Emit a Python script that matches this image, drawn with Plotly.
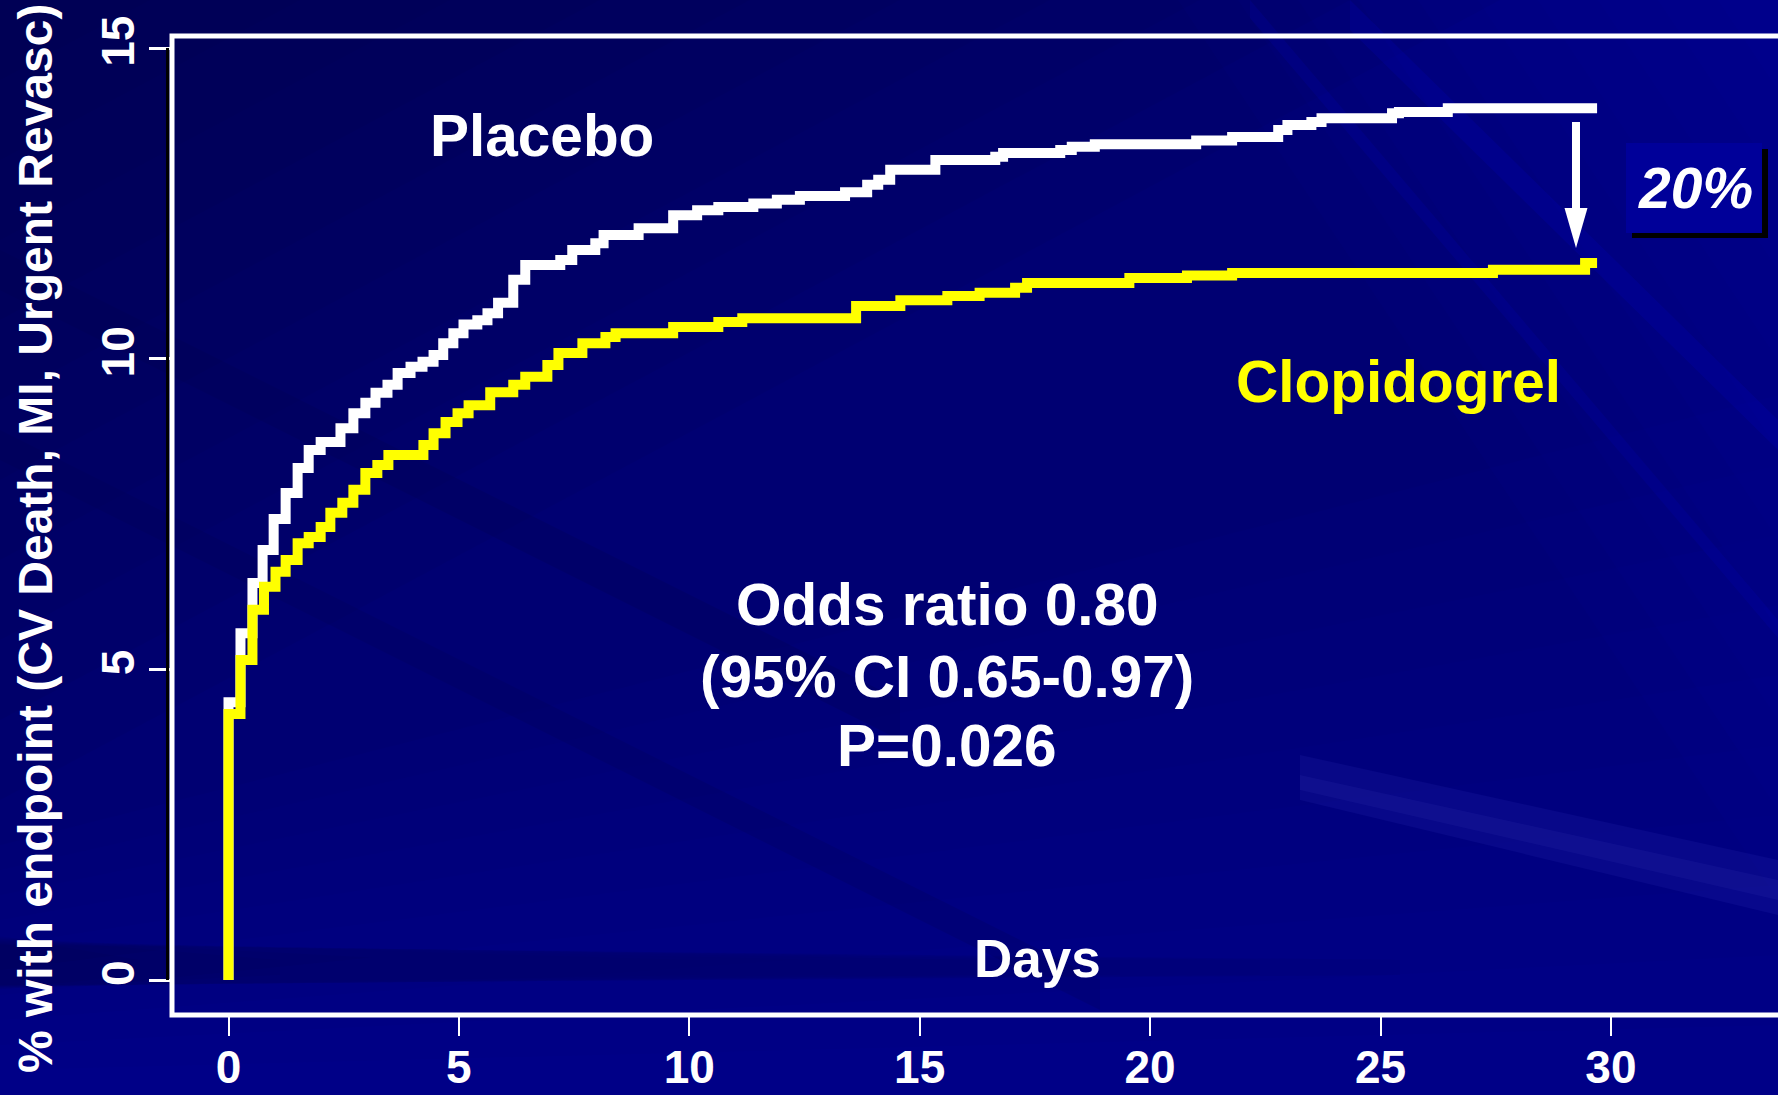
import plotly.graph_objects as go

# ---------------- data ----------------
placebo_days = [0, 0, 0.26, 0.52, 0.74, 0.98, 1.24, 1.5, 1.74, 2.0, 2.43, 2.71, 2.97, 3.19,
                3.45, 3.67, 3.95, 4.21, 4.45, 4.66, 4.88, 5.1, 5.4, 5.62, 5.85, 6.18, 6.44,
                7.2, 7.46, 7.96, 8.14, 8.9, 9.65, 10.17, 10.63, 11.39, 11.9, 12.4, 13.38,
                13.86, 14.1, 14.36, 15.34, 16.64, 16.81, 18.05, 18.3, 18.8, 21.0, 21.78,
                22.78, 22.98, 23.5, 23.72, 25.25, 25.4, 26.46, 29.7]
placebo_pct = [0, 4.47, 5.58, 6.39, 6.92, 7.42, 7.84, 8.24, 8.53, 8.66, 8.88, 9.12, 9.29, 9.45,
               9.58, 9.77, 9.87, 9.95, 10.06, 10.25, 10.41, 10.55, 10.62, 10.73, 10.9, 11.27, 11.51,
               11.59, 11.75, 11.86, 11.99, 12.1, 12.31, 12.39, 12.44, 12.5, 12.56, 12.62, 12.68,
               12.8, 12.88, 13.04, 13.2, 13.25, 13.31, 13.36, 13.41, 13.45, 13.51, 13.57,
               13.68, 13.76, 13.81, 13.87, 13.95, 13.97, 14.03, 14.03]

clopi_days = [0, 0, 0.26, 0.52, 0.77, 1.02, 1.24, 1.5, 1.74, 2.0, 2.21, 2.47, 2.71, 2.97, 3.23,
              3.47, 4.23, 4.45, 4.71, 4.97, 5.21, 5.68, 6.18, 6.44, 6.92, 7.16, 7.68, 8.18, 8.4,
              9.65, 10.63, 11.15, 13.62, 14.58, 15.6, 16.3, 17.07, 17.33, 19.55, 20.8, 21.78,
              27.44, 29.44, 29.7]
clopi_pct = [0, 4.28, 5.15, 5.96, 6.33, 6.57, 6.76, 7.03, 7.13, 7.29, 7.52, 7.68, 7.89, 8.16, 8.29,
             8.45, 8.61, 8.8, 8.98, 9.12, 9.25, 9.46, 9.58, 9.71, 9.9, 10.09, 10.25, 10.35, 10.41,
             10.51, 10.59, 10.65, 10.85, 10.94, 11.01, 11.06, 11.14, 11.22, 11.3, 11.34, 11.38,
             11.43, 11.54, 11.54]

x_ticks = [0, 5, 10, 15, 20, 25, 30]
y_ticks = [0, 5, 10, 15]

y_title = "% with endpoint (CV Death, MI, Urgent Revasc)"
stats_lines = ["Odds ratio 0.80", "(95% CI 0.65-0.97)", "P=0.026"]

# ---------------- layout geometry ----------------
FW, FH = 1778, 1095
L, R, T, B = 172, 1778, 36, 1015
W, H = R - L, B - T


def PX(x):
    return (x - L) / W


def PY(y):
    return (B - y) / H


FONT = "Liberation Sans, Arial, Helvetica, sans-serif"

fig = go.Figure()
fig.add_trace(go.Scatter(x=placebo_days, y=placebo_pct, mode="lines", line_shape="hv",
                         line=dict(color="white", width=10), name="Placebo",
                         showlegend=False, hoverinfo="skip"))
fig.add_trace(go.Scatter(x=clopi_days, y=clopi_pct, mode="lines", line_shape="hv",
                         line=dict(color="#ffff00", width=10), name="Clopidogrel",
                         showlegend=False, hoverinfo="skip"))

shapes = []


def poly(pts, color, opacity, layer="below"):
    d = "M " + " L ".join(f"{PX(x):.5f},{PY(y):.5f}" for x, y in pts) + " Z"
    shapes.append(dict(type="path", xref="paper", yref="paper", path=d,
                       fillcolor=color, opacity=opacity, line=dict(width=0), layer=layer))


# background: soft gradients built from many faint nested bands
poly([(0, 0), (1778, 0), (1778, 1095), (0, 1095)], "#000072", 1)
N = 10
for k in range(1, N + 1):
    f = k / N
    # darker toward upper-left
    poly([(0, 0), (1500 * f, 0), (0, 800 * f)], "#000030", 0.055)
    # brighter toward bottom
    poly([(0, 1095), (1778, 1095), (1778, 1095 - 700 * f), (0, 1095 - 250 * f)], "#0000b0", 0.045)
    # brighter toward upper-right
    poly([(1778, 0), (1778 - 600 * f, 0), (1778, 900 * f)], "#0000c0", 0.04)
    # dark horizontal wedge near the bottom left
    poly([(0, 935 + 10 * f), (1400 * f, 960), (1400 * f, 975), (0, 990 - 5 * f)], "#000040", 0.07)
# a few diagonal streaks
for (x0, y0, x1, y1, wdt, col, op) in [
        (0, 250, 900, 700, 40, "#000050", 0.25),
        (0, 430, 1100, 980, 30, "#000050", 0.2),
        (1350, 0, 1778, 420, 30, "#0000c8", 0.18),
        (1250, 0, 1778, 620, 18, "#0000c8", 0.15)]:
    poly([(x0, y0), (x1, y1), (x1, y1 + wdt), (x0, y0 + wdt)], col, op)
# faint light streak bottom right
poly([(1300, 755), (1778, 860), (1778, 915), (1300, 800)], "#6060ff", 0.08)
poly([(1300, 775), (1778, 880), (1778, 900), (1300, 790)], "#8080ff", 0.06)

# frame
shapes.append(dict(type="rect", xref="paper", yref="paper", x0=0, x1=1.01, y0=0, y1=1,
                   line=dict(color="white", width=5), layer="above"))
# black y axis line
shapes.append(dict(type="line", xref="paper", yref="y", x0=PX(167.5), x1=PX(167.5), y0=0, y1=15,
                   line=dict(color="black", width=3), layer="above"))

# 20% box with shadow
shapes.append(dict(type="rect", xref="paper", yref="paper", x0=PX(1632), x1=PX(1768),
                   y0=PY(238), y1=PY(149), fillcolor="black", line=dict(width=0), layer="above"))
shapes.append(dict(type="rect", xref="paper", yref="paper", x0=PX(1626), x1=PX(1762),
                   y0=PY(233), y1=PY(143), fillcolor="#000099", line=dict(width=0), layer="above"))

# arrow (shaft + head)
shapes.append(dict(type="line", xref="paper", yref="paper", x0=PX(1576), x1=PX(1576),
                   y0=PY(122), y1=PY(212), line=dict(color="white", width=8), layer="above"))
poly([(1564.5, 208), (1587.5, 208), (1576, 248)], "white", 1, layer="above")

annotations = []


def text(x, y, s, size, color="white", style="normal", angle=0):
    annotations.append(dict(xref="paper", yref="paper", x=PX(x), y=PY(y), text=s,
                            showarrow=False, xanchor="center", yanchor="middle",
                            textangle=angle,
                            font=dict(family=FONT, size=size, color=color,
                                      weight="bold", style=style)))


text(542, 136, "Placebo", 58.5)
text(1398, 381, "Clopidogrel", 58.5, color="#ffff00")
for line, yy in zip(stats_lines, [604, 676, 745]):
    text(947, yy, line, 58.5)
text(1037, 959, "Days", 53)
text(1695, 188, "20%", 57, style="italic")
text(35, 539, y_title, 48, angle=-90)

fig.update_layout(
    width=FW, height=FH,
    margin=dict(l=L, r=FW - R, t=T, b=FH - B, pad=0, autoexpand=False),
    paper_bgcolor="#000072",
    plot_bgcolor="rgba(0,0,0,0)",
    shapes=shapes,
    annotations=annotations,
    showlegend=False,
    xaxis=dict(range=[(L - 228.5) / 46.08, (R - 228.5) / 46.08],
               tickvals=x_ticks, ticktext=[str(v) for v in x_ticks],
               ticks="outside", ticklen=20, tickwidth=2, tickcolor="white",
               showgrid=False, zeroline=False, showline=False, automargin=False,
               tickfont=dict(family=FONT, size=46, color="white", weight="bold"),
               ticklabelstandoff=-8),
    yaxis=dict(range=[(980 - B) / 62.13, (980 - T) / 62.13],
               tickvals=y_ticks, ticktext=[str(v) for v in y_ticks],
               ticks="outside", ticklen=22, tickwidth=3, tickcolor="white",
               tickangle=-90,
               showgrid=False, zeroline=False, showline=False, automargin=False,
               tickfont=dict(family=FONT, size=46, color="white", weight="bold"),
               ticklabelstandoff=-3),
)

fig.write_html("out.html")
